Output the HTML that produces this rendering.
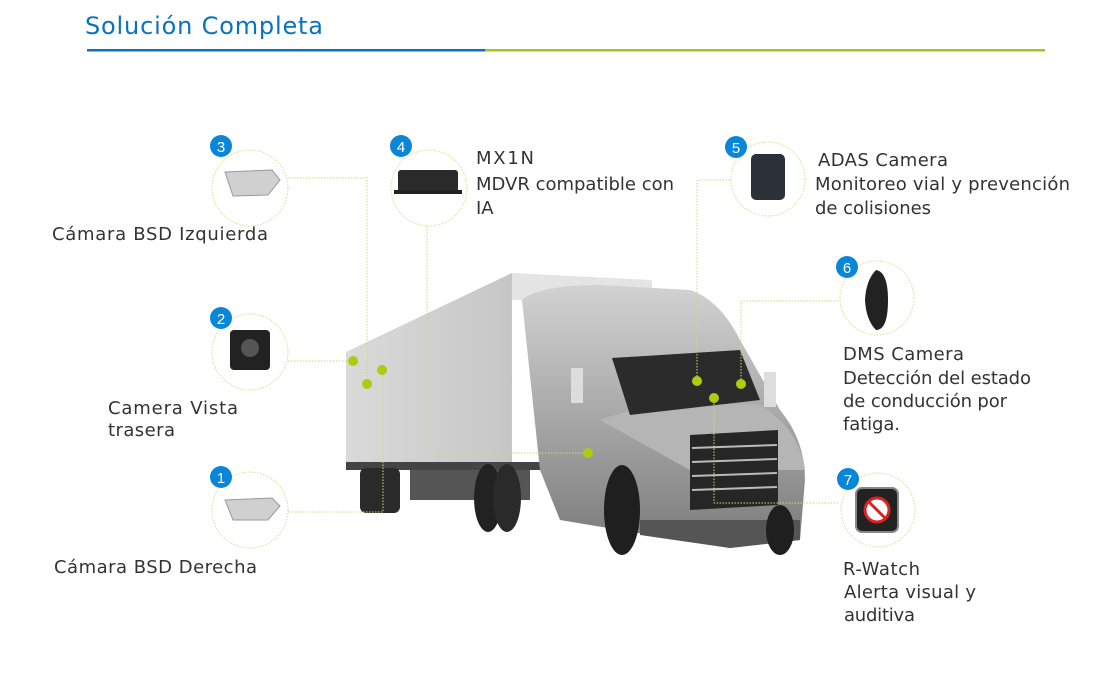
<!DOCTYPE html>
<html><head><meta charset="utf-8"><style>
html,body{margin:0;padding:0;background:#fff;}
svg{display:block}
text{font-family:"DejaVu Sans","Liberation Sans",sans-serif;fill:#333;font-size:18px}
.b{fill:#fff;font-size:15px;font-family:"Liberation Sans",sans-serif}
</style></head><body>
<svg width="1099" height="683" viewBox="0 0 1099 683" xmlns="http://www.w3.org/2000/svg">
<defs>
<linearGradient id="tr" x1="0" x2="1"><stop offset="0" stop-color="#dadada"/><stop offset="1" stop-color="#c6c6c6"/></linearGradient>
<linearGradient id="cab" x1="0" y1="0" x2="0" y2="1"><stop offset="0" stop-color="#d2d2d2"/><stop offset="0.5" stop-color="#a8a8a8"/><stop offset="1" stop-color="#7a7a7a"/></linearGradient>
</defs>
<text x="85" y="34" style="fill:#0a72c0;font-size:24px" textLength="238">Solución Completa</text>
<rect x="87" y="49" width="398" height="2.5" fill="#0a72c0"/>
<rect x="485" y="49" width="560" height="2.5" fill="#a6c41a"/>

<!-- truck -->
<polygon points="346,352 512,273 512,462 346,462" fill="url(#tr)"/>
<polygon points="512,273 652,280 652,300 512,300" fill="#e4e4e4"/>
<polygon points="346,462 560,462 560,470 346,470" fill="#444"/>
<rect x="360" y="468" width="40" height="45" rx="6" fill="#2a2a2a"/>
<rect x="410" y="470" width="120" height="30" fill="#555"/>
<ellipse cx="488" cy="498" rx="14" ry="34" fill="#222"/>
<ellipse cx="507" cy="498" rx="14" ry="34" fill="#2a2a2a"/>
<path d="M522,300 Q540,285 600,285 L690,290 Q720,300 740,340 L780,410 Q805,440 805,480 L800,540 L730,548 L620,530 L560,520 L540,470 L522,300 Z" fill="url(#cab)"/>
<path d="M600,420 Q650,400 760,405 Q800,430 805,470 L690,470 Z" fill="#b5b5b5"/>
<polygon points="612,358 740,350 760,400 630,415" fill="#2b2b2b"/>
<polygon points="690,435 778,430 778,505 690,510" fill="#262626"/>
<g stroke="#bbb" stroke-width="2"><line x1="692" y1="448" x2="777" y2="445"/><line x1="692" y1="462" x2="777" y2="459"/><line x1="692" y1="476" x2="777" y2="473"/><line x1="692" y1="490" x2="777" y2="487"/></g>
<path d="M640,520 L800,520 L800,540 L730,548 L640,535Z" fill="#555"/>
<ellipse cx="622" cy="510" rx="18" ry="45" fill="#1f1f1f"/>
<ellipse cx="780" cy="530" rx="14" ry="25" fill="#1f1f1f"/>
<rect x="571" y="368" width="12" height="35" fill="#ddd"/>
<rect x="764" y="372" width="12" height="35" fill="#ddd"/>

<!-- connectors -->
<g fill="none" stroke="#c9dc78" stroke-width="1" stroke-dasharray="1.5,1.5">
<polyline points="288,178 367,178 367,384"/>
<polyline points="288,361 353,361"/>
<polyline points="288,512 383,512 383,370"/>
<polyline points="427,226 427,453 588,453"/>
<polyline points="730,180 697,180 697,381"/>
<polyline points="838,301 741,301 741,384"/>
<polyline points="838,503 714,503 714,398"/>
</g>
<g fill="#aacd10">
<circle cx="353" cy="361" r="5"/><circle cx="367" cy="384" r="5"/><circle cx="382" cy="370" r="5"/>
<circle cx="588" cy="453" r="5"/><circle cx="697" cy="381" r="5"/><circle cx="714" cy="398" r="5"/><circle cx="741" cy="384" r="5"/>
</g>

<!-- circles -->
<g fill="#fff" stroke="#d4e38a" stroke-width="1" stroke-dasharray="1.5,1.5">
<circle cx="250" cy="188" r="38"/><circle cx="250" cy="352" r="38"/><circle cx="250" cy="510" r="38"/>
<circle cx="429" cy="188" r="38"/><circle cx="768" cy="179" r="37"/><circle cx="877" cy="298" r="37"/><circle cx="878" cy="510" r="37"/>
</g>
<!-- icons -->
<path d="M225,172 L272,170 L280,180 L268,195 L233,196 Z" fill="#d0d0d0" stroke="#999"/>
<path d="M225,500 L272,498 L280,506 L268,520 L233,520 Z" fill="#d0d0d0" stroke="#999"/>
<rect x="230" y="330" width="40" height="40" rx="4" fill="#222"/><circle cx="250" cy="348" r="9" fill="#555"/>
<rect x="398" y="170" width="60" height="22" rx="3" fill="#2a2a2a"/><rect x="394" y="190" width="68" height="4" fill="#222"/>
<rect x="751" y="154" width="34" height="46" rx="5" fill="#2c3038"/>
<path d="M876,270 Q888,272 888,300 Q888,330 876,330 Q866,320 865,300 Q866,280 876,270Z" fill="#222"/>
<rect x="856" y="488" width="42" height="44" rx="6" fill="#222" stroke="#888" stroke-width="2"/>
<circle cx="877" cy="510" r="12" fill="#fff" stroke="#d22" stroke-width="3"/><line x1="869" y1="502" x2="885" y2="518" stroke="#d22" stroke-width="3"/>

<!-- badges -->
<g fill="#0a86d8">
<circle cx="221" cy="146" r="11"/><circle cx="221" cy="318" r="11"/><circle cx="221" cy="477" r="11"/>
<circle cx="401" cy="146" r="11"/><circle cx="736" cy="147" r="11"/><circle cx="847" cy="267" r="11"/><circle cx="848" cy="479" r="11"/>
</g>
<text class="b" x="221" y="152" text-anchor="middle">3</text>
<text class="b" x="221" y="324" text-anchor="middle">2</text>
<text class="b" x="221" y="483" text-anchor="middle">1</text>
<text class="b" x="401" y="152" text-anchor="middle">4</text>
<text class="b" x="736" y="153" text-anchor="middle">5</text>
<text class="b" x="847" y="273" text-anchor="middle">6</text>
<text class="b" x="848" y="485" text-anchor="middle">7</text>

<!-- labels -->
<text x="52" y="240" textLength="216">Cámara BSD Izquierda</text>
<text x="108" y="414" textLength="130">Camera Vista</text>
<text x="108" y="436" textLength="67">trasera</text>
<text x="54" y="573" textLength="203">Cámara BSD Derecha</text>
<text x="476" y="164" textLength="58">MX1N</text>
<text x="476" y="190" textLength="198">MDVR compatible con</text>
<text x="476" y="214">IA</text>
<text x="818" y="166" textLength="130">ADAS Camera</text>
<text x="815" y="190" textLength="255">Monitoreo vial y prevención</text>
<text x="815" y="214" textLength="116">de colisiones</text>
<text x="843" y="360" textLength="121">DMS Camera</text>
<text x="843" y="384" textLength="188">Detección del estado</text>
<text x="843" y="407" textLength="164">de conducción por</text>
<text x="843" y="430" textLength="57">fatiga.</text>
<text x="843" y="575" textLength="77">R-Watch</text>
<text x="844" y="598" textLength="132">Alerta visual y</text>
<text x="844" y="621" textLength="71">auditiva</text>
</svg>
</body></html>
